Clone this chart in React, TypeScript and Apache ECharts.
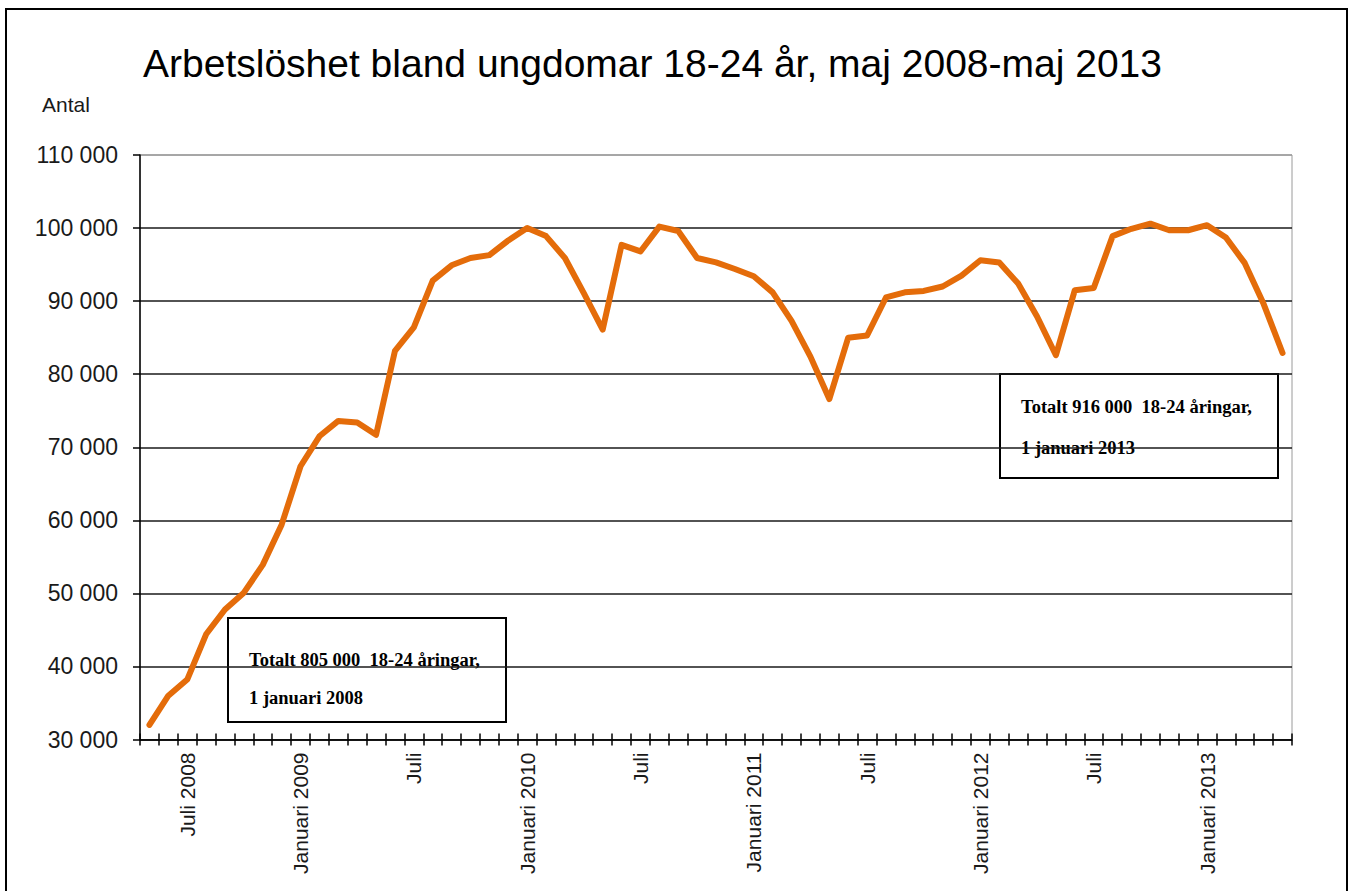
import React, { useEffect, useRef } from "react";
import * as echarts from "echarts";

const monthNames = ["jan", "feb", "mar", "apr", "maj", "jun", "jul", "aug", "sep", "okt", "nov", "dec"];
// maj 2008 .. maj 2013 (61 months)
const categories: string[] = [];
for (let k = 0; k < 61; k++) {
  const m = (4 + k) % 12;
  const y = 2008 + Math.floor((4 + k) / 12);
  categories.push(monthNames[m] + " " + y);
}

const unemployed = [
  32000, 36000, 38200, 44400, 47800, 50100, 53900, 59400, 67400, 71500,
  73600, 73400, 71700, 83200, 86400, 92800, 94900, 95900, 96300, 98300,
  100000, 98900, 95900, 91100, 86100, 97700, 96800, 100200, 99600, 95900,
  95300, 94400, 93400, 91200, 87300, 82400, 76600, 85000, 85300, 90500,
  91200, 91400, 92000, 93500, 95600, 95300, 92400, 87900, 82600, 91500,
  91800, 98900, 99900, 100600, 99700, 99700, 100400, 98700, 95200, 89600,
  82900,
];

const labelIndexes = [2, 8, 14, 20, 26, 32, 38, 44, 50, 56];
const labelTexts = [
  "Juli 2008", "Januari 2009", "Juli", "Januari 2010", "Juli",
  "Januari 2011", "Juli", "Januari 2012", "Juli", "Januari 2013",
];

const yTicks = [30000, 40000, 50000, 60000, 70000, 80000, 90000, 100000, 110000];

const titleText = "Arbetslöshet bland ungdomar 18-24 år, maj 2008-maj 2013";
const yAxisName = "Antal";
const note1 = ["Totalt 805 000  18-24 åringar,", "1 januari 2008"];
const note2 = ["Totalt 916 000  18-24 åringar,", "1 januari 2013"];

const SANS = "'Liberation Sans', Arial, Helvetica, sans-serif";
const SERIF = "'Liberation Serif', 'Times New Roman', serif";

function fmt(v: number) {
  return String(v).replace(/\B(?=(\d{3})+(?!\d))/g, " ");
}

export default function App() {
  const ref = useRef<HTMLDivElement>(null);
  useEffect(() => {
    if (!ref.current) return;
    const chart = echarts.init(ref.current, undefined, { renderer: "svg" });
    const splitColors = yTicks.map((_, i) => (i === yTicks.length - 1 ? "#9a9a9a" : "#1a1a1a"));
    const noteBox = (x: number, y: number, lines: string[], o1: number, o2: number) => ({
      type: "group",
      z: 100,
      children: [
        {
          type: "rect",
          shape: { x, y, width: 278, height: 104 },
          style: { fill: "#fff", stroke: "#000", lineWidth: 2 },
        },
        {
          type: "text",
          x: x + 21,
          y: y + o1,
          style: { text: lines[0], font: `bold 18.5px ${SERIF}`, fill: "#000", verticalAlign: "middle" },
        },
        {
          type: "text",
          x: x + 21,
          y: y + o2,
          style: { text: lines[1], font: `bold 18.5px ${SERIF}`, fill: "#000", verticalAlign: "middle" },
        },
      ],
    });
    chart.setOption({
      animation: false,
      backgroundColor: "#fff",
      grid: {
        left: 140,
        right: 62,
        top: 155,
        bottom: 151.5,
        show: true,
        borderColor: "#9a9a9a",
        borderWidth: 1,
        containLabel: false,
      },
      xAxis: [
        {
          type: "category",
          data: categories,
          boundaryGap: true,
          position: "bottom",
          axisLine: { show: true, onZero: false, lineStyle: { color: "#000", width: 1.5 } },
          axisTick: { show: true, interval: 0, length: 6, lineStyle: { color: "#000", width: 1.5 } },
          axisLabel: {
            interval: 0,
            rotate: 90,
            margin: 13,
            fontSize: 21,
            fontFamily: SANS,
            color: "#1a1a1a",
            formatter: (_v: string, idx: number) => {
              const p = labelIndexes.indexOf(idx);
              return p >= 0 ? labelTexts[p] : "";
            },
          },
          splitLine: { show: false },
        },
        {
          type: "category",
          data: categories,
          boundaryGap: true,
          position: "bottom",
          offset: -6,
          axisLine: { show: false, onZero: false },
          axisTick: { show: true, interval: 0, length: 6, lineStyle: { color: "#000", width: 1.5 } },
          axisLabel: { show: false },
          splitLine: { show: false },
        },
      ],
      yAxis: {
        type: "value",
        min: 30000,
        max: 110000,
        interval: 10000,
        axisLine: { show: true, lineStyle: { color: "#000", width: 1.5 } },
        axisTick: { show: true, length: 7, lineStyle: { color: "#000", width: 1.5 } },
        axisLabel: {
          margin: 22,
          fontSize: 23,
          fontFamily: SANS,
          color: "#1a1a1a",
          formatter: (v: number) => fmt(v),
        },
        splitLine: { show: true, lineStyle: { color: splitColors, width: 1.5 } },
      },
      series: [
        {
          type: "line",
          xAxisIndex: 0,
          data: unemployed,
          symbol: "none",
          smooth: false,
          lineStyle: { color: "#E46C0A", width: 6, cap: "round", join: "round" },
          z: 10,
        },
      ],
      graphic: [
        {
          type: "rect",
          shape: { x: 6, y: 9, width: 1341, height: 900 },
          style: { fill: "none", stroke: "#000", lineWidth: 2 },
          silent: true,
          z: 200,
        },
        {
          type: "text",
          x: 143,
          y: 63,
          style: { text: titleText, font: `39px ${SANS}`, fill: "#000", verticalAlign: "middle" },
        },
        {
          type: "text",
          x: 42,
          y: 104.5,
          style: { text: yAxisName, font: `21px ${SANS}`, fill: "#1a1a1a", verticalAlign: "middle" },
        },
        noteBox(228, 618, note1, 42, 80),
        noteBox(1000, 374, note2, 33, 74),
      ],
    });
    return () => chart.dispose();
  }, []);
  return (
    <div
      ref={ref}
      style={{ position: "fixed", left: 0, top: 0, width: 1354, height: 891 }}
    />
  );
}
